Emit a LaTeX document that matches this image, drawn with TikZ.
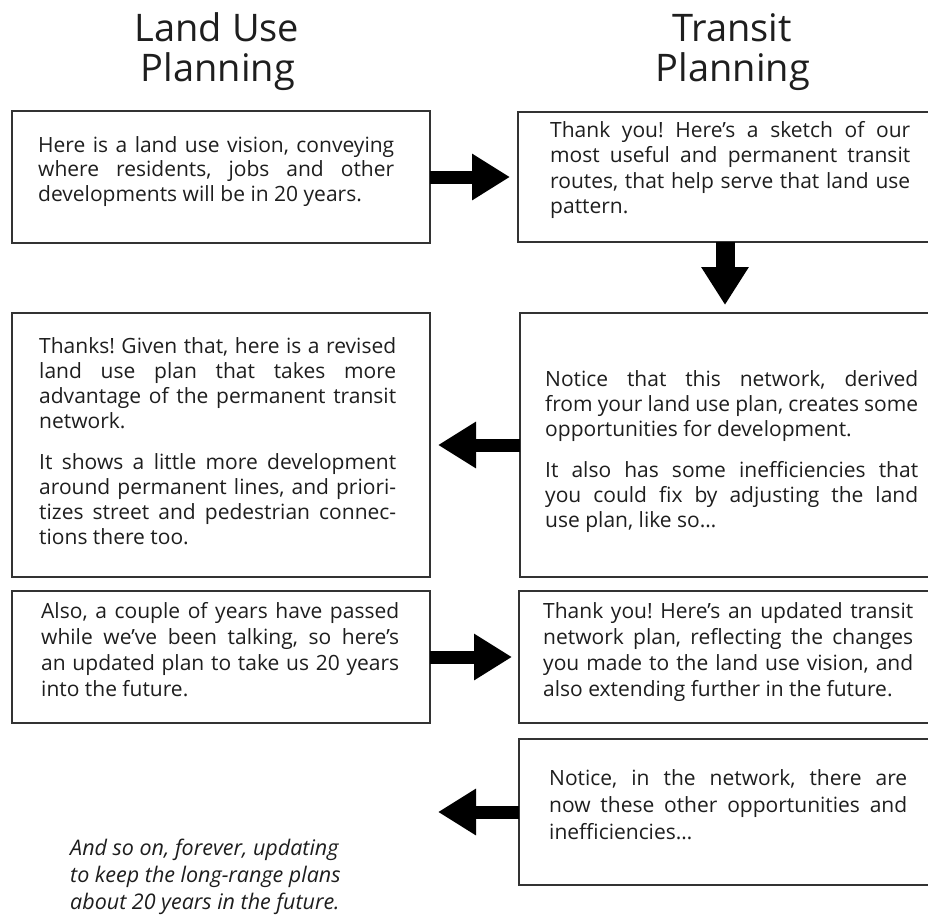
\documentclass[tikz,border=0pt]{standalone}
\usepackage{fontspec}
\setmainfont{Open Sans}
\usetikzlibrary{arrows.meta}
\definecolor{ink}{HTML}{1E1E1E}
\definecolor{frame}{HTML}{333333}
\frenchspacing
\newcommand\jl[1]{\hbox to \hsize{#1}}
\newcommand\lastln[1]{\hbox{#1}}
\newcommand\txtblock[2]{\vtop{\hsize=#1pt\relax #2}}
\tikzset{
 panel/.style={draw=frame, line width=1.6pt, fill=white, anchor=north west, inner sep=0pt, outer sep=0pt},
 body/.style={anchor=base west, inner sep=0pt, text=ink, font=\fontsize{21}{25}\selectfont},
 head/.style={anchor=base, inner sep=0pt, text=ink, font=\fontsize{38}{40}\selectfont},
 hflow/.style={line width=13pt, -{Triangle[length=38pt,width=44pt]}, black},
 vflow/.style={line width=19pt, -{Triangle[length=38pt,width=45pt]}, black},
}
\begin{document}
\frenchspacing
\begin{tikzpicture}[x=1pt,y=-1pt]
\useasboundingbox (0,0) rectangle (928,915);
\fill[white] (0,0) rectangle (928,915);

% headers
\node[head] (h1a) at (217,42) {Land Use};
\node[head] (h1b) at (218,82) {Planning};
\node[head] (h2a) at (732,42) {Transit};
\node[head] (h2b) at (733,82) {Planning};

% panels
\node[panel, minimum width=418pt, minimum height=132pt] (b1) at (12,111) {};
\node[panel, minimum width=414pt, minimum height=130pt] (b2) at (518,112) {};
\node[panel, minimum width=418pt, minimum height=264pt] (b3) at (12,313) {};
\node[panel, minimum width=410pt, minimum height=264pt] (b4) at (520,313) {};
\node[panel, minimum width=418pt, minimum height=132pt] (b5) at (12,591) {};
\node[panel, minimum width=413pt, minimum height=132pt] (b6) at (519,591) {};
\node[panel, minimum width=413pt, minimum height=146pt] (b7) at (519,739) {};

% texts
\node[body, font=\fontsize{21}{24.5}\selectfont] (t1) at (38,152) {\txtblock{356}{%
\jl{Here is a land use vision, conveying}
\jl{where residents, jobs and other}
\lastln{developments will be in 20 years.}}};

\node[body, font=\fontsize{21}{25.6}\selectfont] (t2) at (550,137) {\txtblock{360}{%
\jl{Thank you! Here's a sketch of our}
\jl{most useful and permanent transit}
\jl{routes, that help serve that land use}
\lastln{pattern.}}};

\node[body] (t3) at (39,353) {\txtblock{357}{%
\jl{Thanks! Given that, here is a revised}
\jl{land use plan that takes more}
\jl{advantage of the permanent transit}
\lastln{network.}
\vskip 16pt
\jl{It shows a little more development}
\jl{around permanent lines, and priori-}
\jl{tizes street and pedestrian connec-}
\lastln{tions there too.}}};

\node[body] (t4) at (545,386) {\txtblock{373}{%
\jl{Notice that this network, derived}
\jl{from your land use plan, creates some}
\lastln{opportunities for development.}
\vskip 16pt
\jl{It also has some inefficiencies that}
\jl{you could fix by adjusting the land}
\lastln{use plan, like so…}}};

\node[body, font=\fontsize{21}{26}\selectfont] (t5) at (41,618) {\txtblock{358}{%
\jl{Also, a couple of years have passed}
\jl{while we’ve been talking, so here's}
\jl{an updated plan to take us 20 years}
\lastln{into the future.}}};

\node[body, font=\fontsize{21}{26}\selectfont] (t6) at (543,618) {\txtblock{370}{%
\jl{Thank you! Here's an updated transit}
\jl{network plan, reflecting the changes}
\jl{you made to the land use vision, and}
\lastln{also extending further in the future.}}};

\node[body, font=\fontsize{21}{27}\selectfont] (t7) at (549,785) {\txtblock{358}{%
\jl{Notice, in the network, there are}
\jl{now these other opportunities and}
\lastln{inefficiencies…}}};

\node[body, font=\fontsize{21.5}{27}\selectfont\itshape] (t8) at (70,855) {\txtblock{300}{%
\lastln{And so on, forever, updating}
\lastln{to keep the long-range plans}
\lastln{about 20 years in the future.}}};

% flow arrows
\coordinate (loopback) at (438,812);
\draw[hflow] (b1.east) -- ([xshift=-8pt]b2.west);
\draw[vflow] (b2.south) -- ([yshift=8pt]b4.north);
\draw[hflow] (b4.west) -- ([xshift=8pt]b3.east);
\draw[hflow] (b5.east) -- ([xshift=-7pt]b6.west);
\draw[hflow] (b7.west) -- (loopback);
\end{tikzpicture}
\end{document}
